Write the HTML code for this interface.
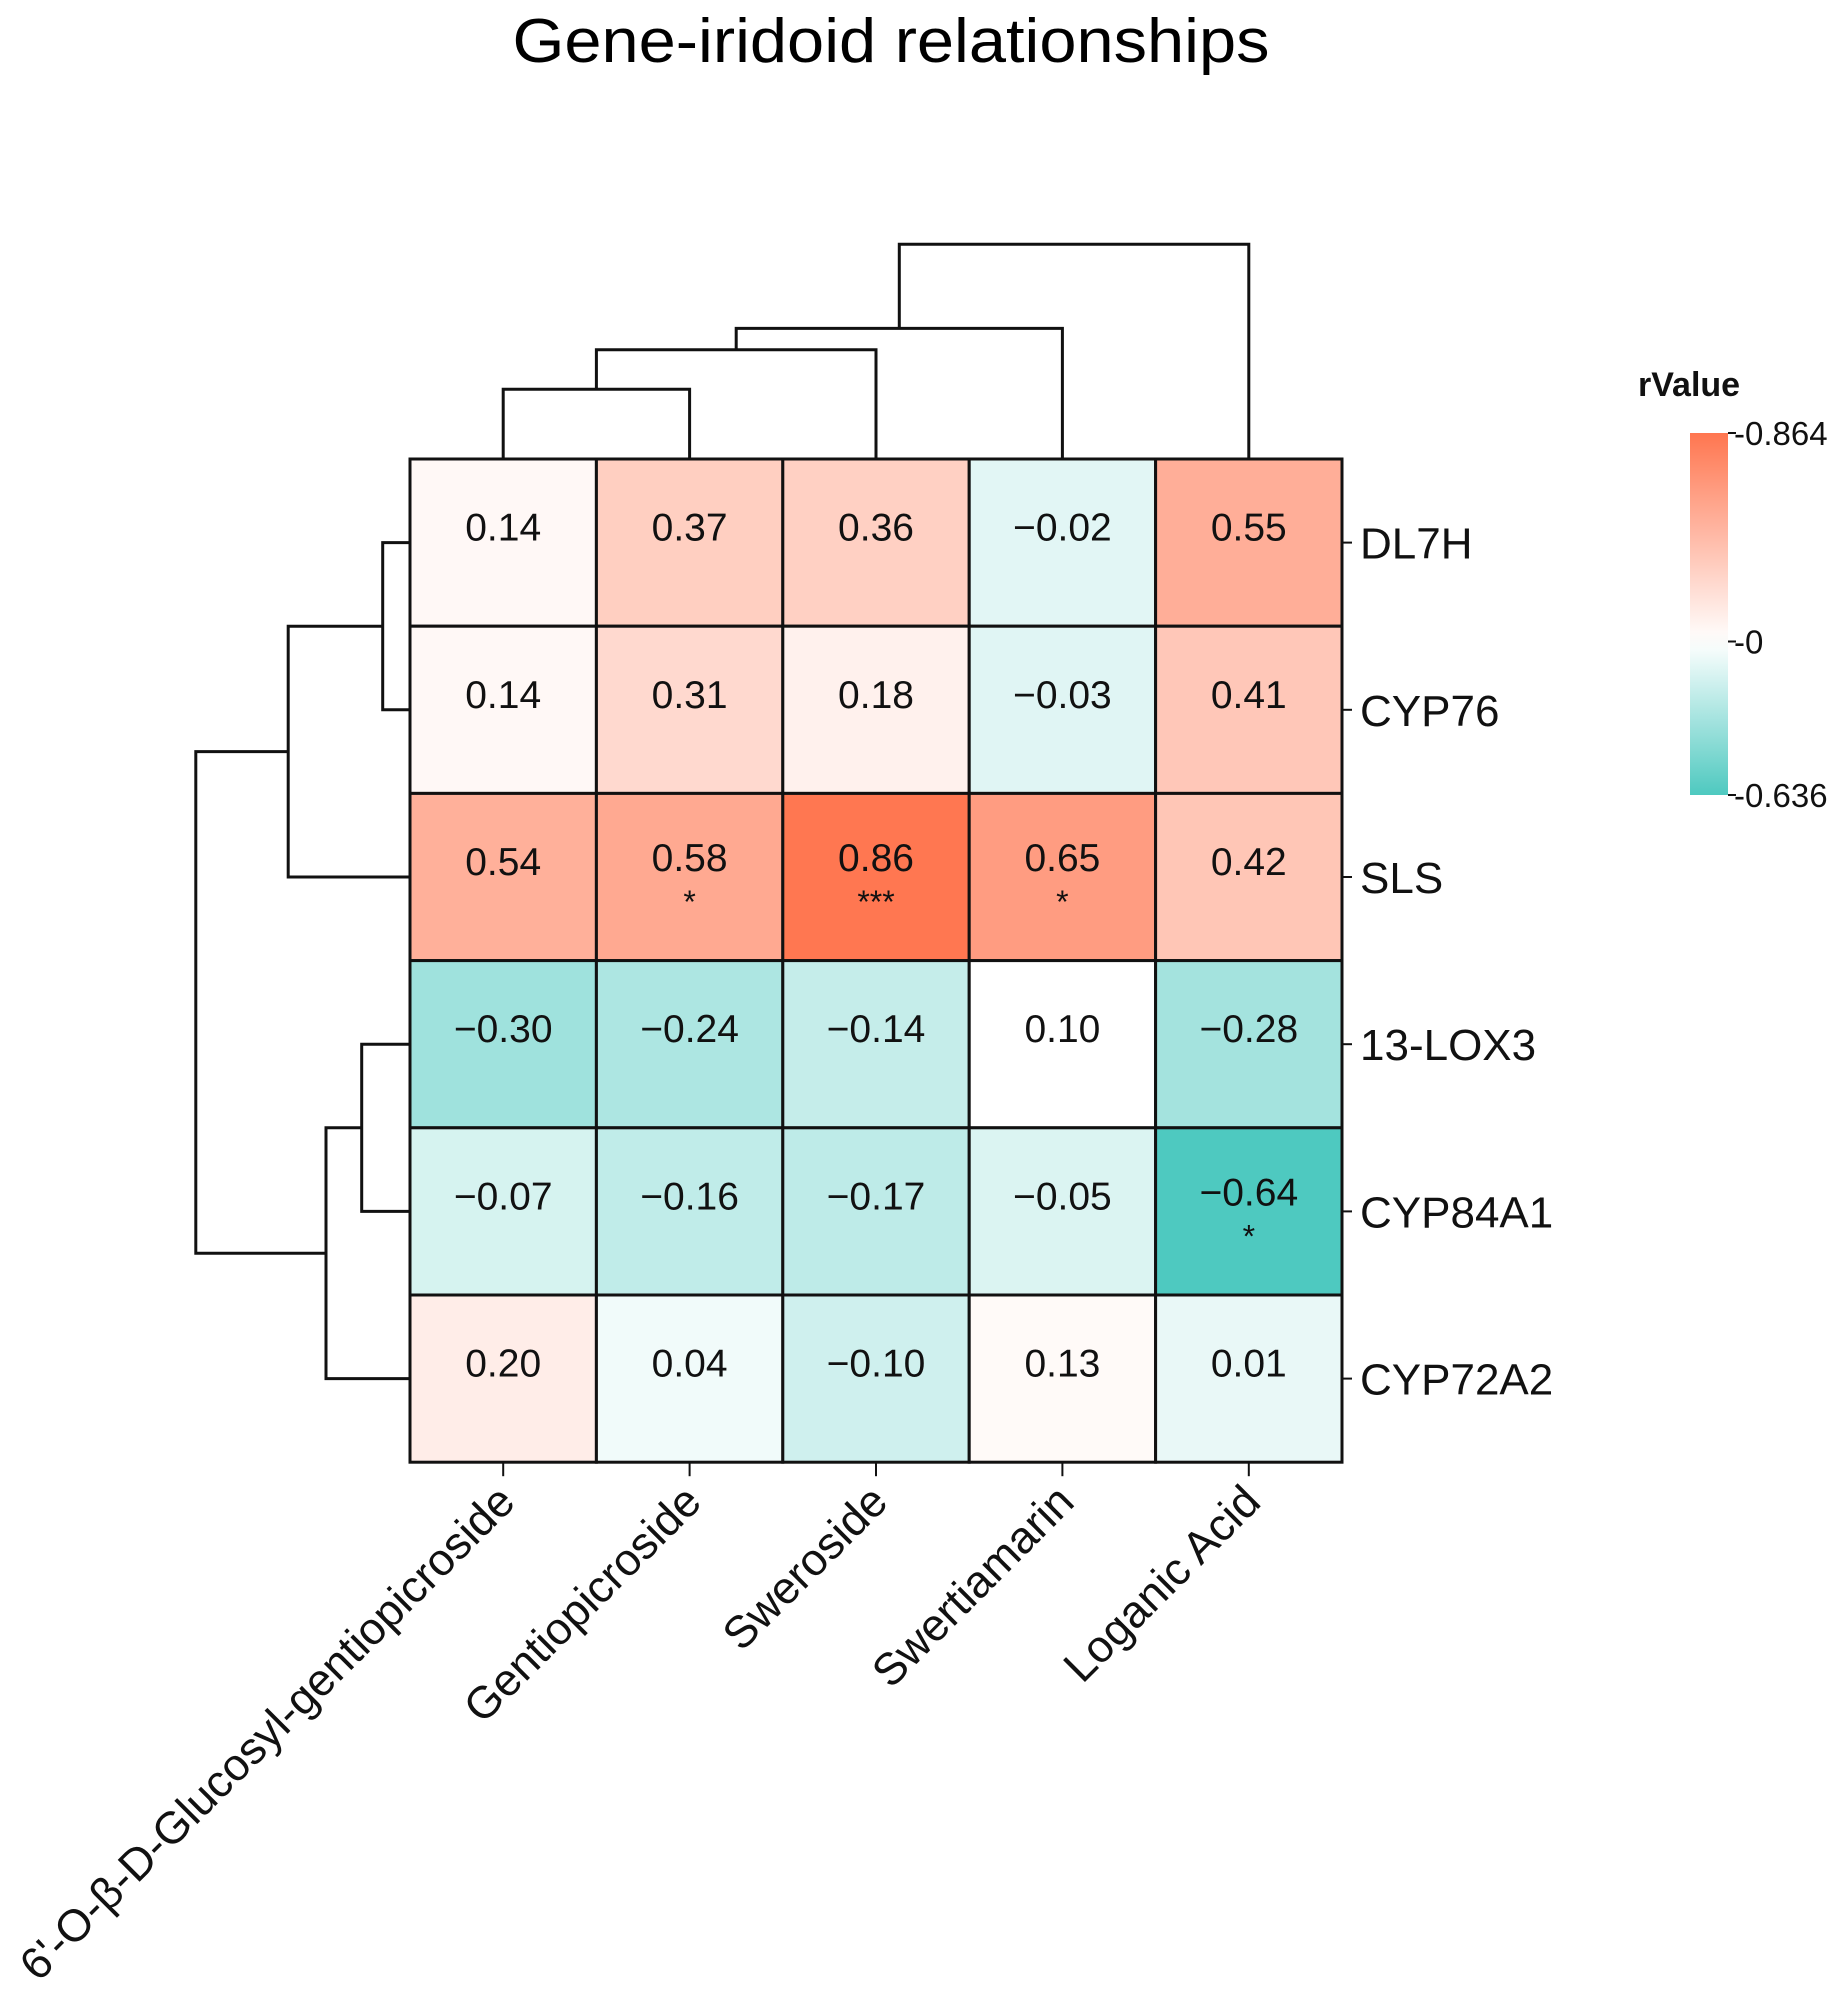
<!DOCTYPE html>
<html><head><meta charset="utf-8">
<style>
html,body{margin:0;padding:0;background:#fff;}
svg{display:block;font-family:"Liberation Sans",Arial,sans-serif;}
</style></head>
<body>
<svg id="chart" width="1847" height="2001" viewBox="0 0 1847 2001" xmlns="http://www.w3.org/2000/svg">
<rect x="0" y="0" width="1847" height="2001" fill="#fff"/>
<text x="891" y="62" font-size="62" text-anchor="middle" textLength="757" lengthAdjust="spacingAndGlyphs">Gene-iridoid relationships</text>
<g id="cells"></g>
<g id="dendro"></g>
<g id="labels"></g>
<g id="legend"></g>
</svg>
<script>
const colLabels = ["6'-O-β-D-Glucosyl-gentiopicroside","Gentiopicroside","Sweroside","Swertiamarin","Loganic Acid"];
const rowLabels = ["DL7H","CYP76","SLS","13-LOX3","CYP84A1","CYP72A2"];
const values = [
  [0.14, 0.37, 0.36, -0.02, 0.55],
  [0.14, 0.31, 0.18, -0.03, 0.41],
  [0.54, 0.58, 0.86, 0.65, 0.42],
  [-0.30, -0.24, -0.14, 0.10, -0.28],
  [-0.07, -0.16, -0.17, -0.05, -0.64],
  [0.20, 0.04, -0.10, 0.13, 0.01]
];
const stars = [
  ["","","","",""],
  ["","","","",""],
  ["","*","***","*",""],
  ["","","","",""],
  ["","","","","*"],
  ["","","","",""]
];
const legendTicks = [0.864, 0, -0.636];
// dendrogram merges: [leftChild, rightChild, height]; leaves are 0..n-1, merged nodes n, n+1, ...
const colMerges = [[0,1,0.39],[5,2,0.61],[6,3,0.73],[7,4,1.20]];
const rowMerges = [[0,1,0.13],[6,2,0.58],[3,4,0.23],[8,5,0.40],[7,9,1.02]];

const NS = "http://www.w3.org/2000/svg";
const X0 = 410, Y0 = 459, CW = 186.4, CH = 167.2;
const vmin = -0.636, vmax = 0.864, vwhite = 0.1;
const xC = i => X0 + CW * (i + 0.5);
const yC = j => Y0 + CH * (j + 0.5);
const colH = h => Y0 - h * 179;
const rowH = h => X0 - h * 210;
function mk(tag, attrs, parent){const e=document.createElementNS(NS,tag);for(const k in attrs)e.setAttribute(k,attrs[k]);parent.appendChild(e);return e;}
function color(v){
  let r,g,b,t;
  if(v>=vwhite){t=Math.min((v-vwhite)/(vmax-vwhite),1);r=255;g=255-t*(255-118);b=255-t*(255-80);}
  else{t=Math.min((vwhite-v)/(vwhite-vmin),1);r=255-t*(255-78);g=255-t*(255-201);b=255-t*(255-192);}
  return `rgb(${Math.round(r)},${Math.round(g)},${Math.round(b)})`;
}
function fmt(v){const s=Math.abs(v).toFixed(2);return (v<0?"\u2212":"")+s;}

const cells=document.getElementById('cells');
values.forEach((row,j)=>row.forEach((v,i)=>{
  const r=mk('rect',{x:X0+CW*i,y:Y0+CH*j,width:CW,height:CH,fill:color(v),stroke:'#111','stroke-width':3},cells);
  
  
  const st=stars[j][i];
  const t=mk('text',{x:xC(i),y:yC(j)-(st?6:2),'font-size':39,'text-anchor':'middle',fill:'#111'},cells);
  t.textContent=fmt(v);
  
  
  if(st){
    const s=mk('text',{x:xC(i),y:yC(j)+36,'font-size':32,'text-anchor':'middle',fill:'#111'},cells);
    s.textContent=st;
    
    
  }
}));

const dg=document.getElementById('dendro');
function dendro(merges,n,posFn,hFn,base,vertical){
  const pos=[],hgt=[];
  for(let i=0;i<n;i++){pos.push(posFn(i));hgt.push(base);}
  merges.forEach(m=>{
    const [a,b,h]=m;const hp=hFn(h);
    let d;
    if(vertical){d=`M${pos[a]},${hgt[a]}V${hp}H${pos[b]}V${hgt[b]}`;}
    else{d=`M${hgt[a]},${pos[a]}H${hp}V${pos[b]}H${hgt[b]}`;}
    const p=mk('path',{d:d,fill:'none',stroke:'#111','stroke-width':3},dg);
    
    
    pos.push((pos[a]+pos[b])/2);hgt.push(hp);
  });
}
dendro(colMerges,colLabels.length,xC,colH,Y0,true);
dendro(rowMerges,rowLabels.length,yC,rowH,X0,false);

const lg=document.getElementById('labels');
rowLabels.forEach((l,j)=>{
  const tk=mk('line',{x1:X0+CW*5,x2:X0+CW*5+10,y1:yC(j),y2:yC(j),stroke:'#111','stroke-width':2},lg);
  
  
  const t=mk('text',{x:X0+CW*5+18,y:yC(j)+16,'font-size':44,fill:'#111'},lg);
  t.textContent=l;
  
  
});
colLabels.forEach((l,i)=>{
  const yb=Y0+CH*6;
  const tk=mk('line',{x1:xC(i),x2:xC(i),y1:yb,y2:yb+14,stroke:'#111','stroke-width':2},lg);
  
  
  const ax=xC(i)+14, ay=yb+42;
  const t=mk('text',{x:ax,y:ay,'font-size':45,'text-anchor':'end',fill:'#111',transform:`rotate(-45 ${ax} ${ay})`},lg);
  t.textContent=l;
  
  
});

// legend
const leg=document.getElementById('legend');
const LX=1690,LW=38,LT=433,LB=795;
const ly=v=>LT+(vmax-v)/(vmax-vmin)*(LB-LT);
const defs=mk('defs',{},leg);
const grad=mk('linearGradient',{id:'cg',x1:0,y1:0,x2:0,y2:1},defs);
function lcolor(v){let r,g,b,t;if(v>=0){t=v/vmax;r=255;g=255-t*137;b=255-t*175;}else{t=-v/(-vmin);r=255-t*177;g=255-t*54;b=255-t*63;}return `rgb(${Math.round(r)},${Math.round(g)},${Math.round(b)})`;}
for(let k=0;k<=20;k++){const v=vmax-(vmax-vmin)*k/20;mk('stop',{offset:k/20,'stop-color':lcolor(v)},grad);}
const bar=mk('rect',{x:LX,y:LT,width:LW,height:LB-LT,fill:'url(#cg)'},leg);


const ttl=mk('text',{x:1638,y:396,'font-size':34,'font-weight':'bold',fill:'#111'},leg);
ttl.textContent='rValue';


legendTicks.forEach(v=>{
  const y=ly(v);
  const tk=mk('line',{x1:LX+LW,x2:LX+LW+8,y1:y,y2:y,stroke:'#111','stroke-width':2},leg);
  
  
  const t=mk('text',{x:LX+LW+6,y:y+12,'font-size':33,fill:'#111'},leg);
  t.textContent='-'+Math.abs(v);
  
  
});
</script>
</body></html>
